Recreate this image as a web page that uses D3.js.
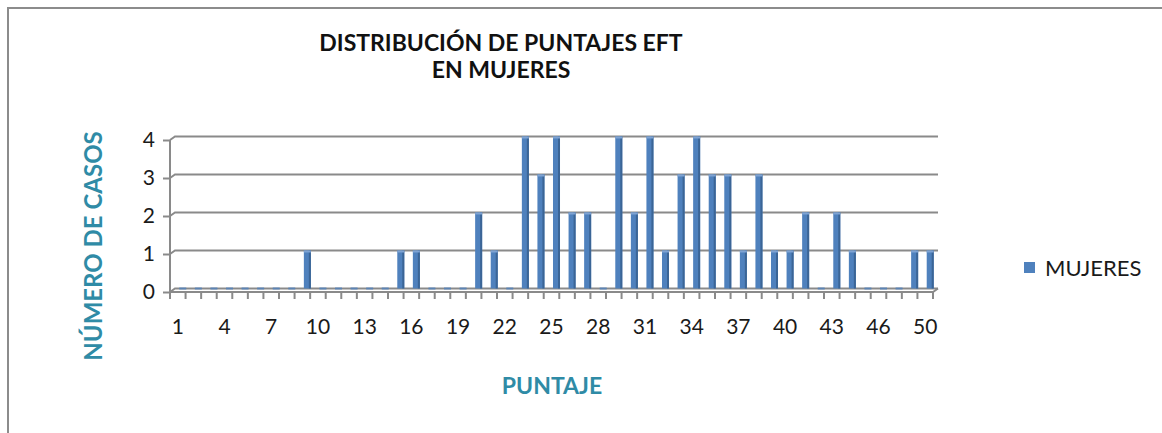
<!DOCTYPE html>
<html>
<head>
<meta charset="utf-8">
<script src="https://cdn.jsdelivr.net/npm/d3@7"></script>
<style>
  html, body { margin: 0; padding: 0; background: #fff; }
  svg { display: block; font-family: Lato, "Open Sans", sans-serif; }
</style>
</head>
<body>
<svg id="chart" width="1162" height="433"></svg>
<script>
// ---- data ----
const categories = ["1","2","3","4","5","6","7","8","9","10","11","12","13","14","15","16","17","18","19","20",
  "21","22","23","24","25","26","27","28","29","30","31","32","33","34","35","36","37","38","39","40",
  "41","42","43","44","45","46","47","48","50"];
const mujeres = [0,0,0,0,0,0,0,0,1,0,0,0,0,0,1,1,0,0,0,2,
  1,0,4,3,4,2,2,0,4,2,4,1,3,4,3,3,1,3,1,1,
  2,0,2,1,0,0,0,1,1];
const yTicks = [0,1,2,3,4];
const seriesName = "MUJERES";
const titleLines = ["DISTRIBUCIÓN DE PUNTAJES EFT", "EN MUJERES"];
const yTitle = "NÚMERO DE CASOS";
const xTitle = "PUNTAJE";

// ---- layout ----
const svg = d3.select("#chart");
const W = 1162, H = 433;
const frontX0 = 170, frontX1 = 933, floorFrontY = 292;
const dx = 5, dy = -3.5; // 3D depth offset

const x = d3.scaleBand().domain(categories).range([frontX0, frontX1]).padding(0);
const y = d3.scaleLinear().domain([0, 4]).range([floorFrontY + dy, 136.5]);

const gridColor = "#8a8a8a";
const barFront = "#4f81bd", barSide = "#3b6596", barTop = "#7fa3d3";
const teal = "#2f8ba6";

// chart frame
svg.append("rect").attr("x", 8).attr("y", 8).attr("width", W + 20).attr("height", H + 20)
  .attr("fill", "#fff").attr("stroke", "#8c8c8c").attr("stroke-width", 2);

// back gridlines (with small diagonal to front axis)
const grid = svg.append("g");
yTicks.forEach(t => {
  const yb = y(t);
  grid.append("path")
    .attr("d", `M${frontX0},${yb - dy} L${frontX0 + dx},${yb} L${frontX1 + dx},${yb}`)
    .attr("fill", "none").attr("stroke", gridColor).attr("stroke-width", 2);
});

// floor front edge and right edge
svg.append("path")
  .attr("d", `M${frontX0},${floorFrontY} L${frontX1},${floorFrontY} L${frontX1 + dx},${floorFrontY + dy}`)
  .attr("fill", "none").attr("stroke", gridColor).attr("stroke-width", 2);

// front vertical axis line
svg.append("line").attr("x1", frontX0).attr("x2", frontX0)
  .attr("y1", y(4) - dy).attr("y2", floorFrontY + 1)
  .attr("stroke", gridColor).attr("stroke-width", 2);

// y axis (front)
const yAxis = d3.axisLeft(y).tickValues(yTicks).tickSize(7).tickPadding(8).tickFormat(d3.format("d"));
const gy = svg.append("g").attr("transform", `translate(${frontX0},${-dy})`).call(yAxis);
gy.select(".domain").remove();
gy.selectAll(".tick line").attr("stroke", gridColor).attr("stroke-width", 2);
gy.selectAll(".tick text").attr("font-size", 21).attr("fill", "#1a1a1a").attr("font-family", "Lato");

// category tick marks at band boundaries
const bounds = categories.map(c => x(c)).concat([x(categories[categories.length - 1]) + x.bandwidth()]);
svg.append("g").selectAll("line").data(bounds).join("line")
  .attr("x1", d => d).attr("x2", d => d)
  .attr("y1", floorFrontY).attr("y2", floorFrontY + 7)
  .attr("stroke", gridColor).attr("stroke-width", 2);

// x axis labels (every 3rd)
const xAxis = d3.axisBottom(x).tickValues(categories.filter((c, i) => i % 3 === 0)).tickSize(0).tickPadding(27);
const gx = svg.append("g").attr("transform", `translate(0,${floorFrontY})`).call(xAxis);
gx.select(".domain").remove();
gx.selectAll(".tick text").attr("font-size", 21).attr("fill", "#1a1a1a").attr("font-family", "Lato");

// bars (3D-ish columns)
const bw = x.bandwidth() * 0.45, side = 2, topH = 2;
const bars = svg.append("g");
const data = categories.map((c, i) => ({ c, v: mujeres[i] }));
const bx = d => x(d.c) + x.bandwidth() / 2 + dx - bw / 2;
bars.selectAll("rect.front").data(data.filter(d => d.v > 0)).join("rect")
  .attr("class", "front")
  .attr("x", bx).attr("y", d => y(d.v))
  .attr("width", bw).attr("height", d => y(0) - y(d.v))
  .attr("fill", barFront);
bars.selectAll("rect.side").data(data.filter(d => d.v > 0)).join("rect")
  .attr("class", "side")
  .attr("x", d => bx(d) + bw - side).attr("y", d => y(d.v))
  .attr("width", side).attr("height", d => y(0) - y(d.v))
  .attr("fill", barSide);
bars.selectAll("rect.top").data(data.filter(d => d.v > 0)).join("rect")
  .attr("class", "top")
  .attr("x", bx).attr("y", d => y(d.v))
  .attr("width", bw).attr("height", topH)
  .attr("fill", barTop);
// zero-height columns appear as flat dashes on the floor
bars.selectAll("rect.zero").data(data.filter(d => d.v === 0)).join("rect")
  .attr("class", "zero")
  .attr("x", bx).attr("y", y(0) - 1)
  .attr("width", bw).attr("height", 2)
  .attr("fill", barFront).attr("opacity", 0.8);

// title
const title = svg.append("text").attr("text-anchor", "middle")
  .attr("font-weight", "bold").attr("font-size", 23).attr("fill", "#111");
titleLines.forEach((t, i) => {
  title.append("tspan").attr("x", 501).attr("y", 51 + i * 27).text(t);
});

// axis titles
svg.append("text").attr("transform", "translate(102,246) rotate(-90)")
  .attr("text-anchor", "middle").attr("font-weight", "bold").attr("font-size", 24)
  .attr("fill", teal).text(yTitle);
svg.append("text").attr("x", 552).attr("y", 394)
  .attr("text-anchor", "middle").attr("font-weight", "bold").attr("font-size", 23)
  .attr("fill", teal).text(xTitle);

// legend
const lg = svg.append("g").attr("transform", "translate(1024,262)");
lg.append("rect").attr("width", 11).attr("height", 11).attr("fill", barFront);
lg.append("text").attr("x", 21).attr("y", 14).attr("font-size", 22).attr("fill", "#1a1a1a").text(seriesName);
</script>
</body>
</html>
